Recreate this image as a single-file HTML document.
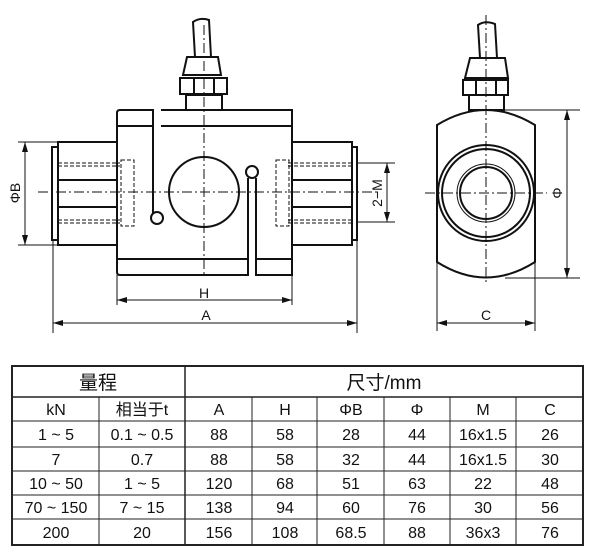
<!DOCTYPE html>
<html><head><meta charset="utf-8"><style>
html,body{margin:0;padding:0;background:#fff;width:600px;height:560px;overflow:hidden}
svg{display:block}
text{font-family:"Liberation Sans","Noto Sans CJK SC",sans-serif;fill:#111}
</style></head><body>
<svg width="600" height="560" viewBox="0 0 600 560" xmlns="http://www.w3.org/2000/svg">
<defs>
<marker id="ar" viewBox="0 0 10 6" refX="10" refY="3" markerWidth="10" markerHeight="6" orient="auto-start-reverse" markerUnits="userSpaceOnUse"><path d="M0,0 L10,3 L0,6 z" fill="#111"/></marker>
</defs>
<g stroke="#111" fill="none">
<g stroke-width="2">
<path d="M195,57 L193,22 Q200,17 209,20 L211,57"/>
<path d="M187,57 L218,57 L221,75 L183,75 Z"/>
<rect x="180" y="78" width="47" height="16"/>
<line x1="194" y1="78" x2="194" y2="94"/><line x1="214" y1="78" x2="214" y2="94"/>
<rect x="186" y="95" width="36" height="15"/>
<path d="M120,110 L153,110 L153,215"/>
<path d="M161,110 L292,110 L292,275 L256,275 L256,178"/>
<path d="M248,178 L248,275 L120,275 Q117,275 117,272 L117,113 Q117,110 120,110"/>
<circle cx="157" cy="218" r="6" fill="#fff"/>
<circle cx="252" cy="172" r="6" fill="#fff"/>
<line x1="117" y1="126" x2="153" y2="126"/><line x1="161" y1="126" x2="292" y2="126"/>
<line x1="117" y1="259" x2="248" y2="259"/><line x1="256" y1="259" x2="292" y2="259"/>
<circle cx="204" cy="192" r="35"/>
<path d="M117,142 L58,142 L58,245 L117,245"/>
<path d="M117,180 L59,180 M117,207 L59,207"/>
<rect x="52" y="147" width="6" height="93"/>
<path d="M292,142 L352,142 L352,245 L292,245"/>
<path d="M292,180 L351,180 M292,207 L351,207"/>
<rect x="352" y="147" width="5" height="93"/>
</g>
<g stroke-width="1" stroke-dasharray="4,2">
<line x1="58" y1="163" x2="120" y2="163"/><line x1="58" y1="166" x2="120" y2="166"/>
<line x1="58" y1="220" x2="120" y2="220"/><line x1="58" y1="223" x2="120" y2="223"/>
<rect x="121" y="160" width="13" height="66"/>
<line x1="288" y1="163" x2="352" y2="163"/><line x1="288" y1="166" x2="352" y2="166"/>
<line x1="288" y1="220" x2="352" y2="220"/><line x1="288" y1="223" x2="352" y2="223"/>
<rect x="276" y="160" width="13" height="66"/>
</g>
<g stroke-width="1" stroke-dasharray="10,3,2,3">
<line x1="38" y1="192" x2="378" y2="192"/>
<line x1="204" y1="25" x2="204" y2="275"/>
</g>
<g stroke-width="1">
<line x1="18" y1="142" x2="58" y2="142"/><line x1="18" y1="245" x2="58" y2="245"/>
<line x1="25" y1="142" x2="25" y2="245" marker-start="url(#ar)" marker-end="url(#ar)"/>
<line x1="357" y1="163" x2="395" y2="163"/><line x1="357" y1="222" x2="395" y2="222"/>
<line x1="387" y1="163" x2="387" y2="222" marker-start="url(#ar)" marker-end="url(#ar)"/>
<line x1="117" y1="275" x2="117" y2="305"/><line x1="292" y1="275" x2="292" y2="305"/>
<line x1="117" y1="300" x2="292" y2="300" marker-start="url(#ar)" marker-end="url(#ar)"/>
<line x1="53" y1="240" x2="53" y2="333"/><line x1="357" y1="240" x2="357" y2="333"/>
<line x1="53" y1="323" x2="357" y2="323" marker-start="url(#ar)" marker-end="url(#ar)"/>
</g>
<g stroke-width="2">
<path d="M480,58 L478,25 Q485,20 495,24 L497,58"/>
<path d="M470,58 L505,58 L508,78 L465,78 Z"/>
<rect x="463" y="80" width="45" height="15"/>
<line x1="476" y1="80" x2="476" y2="95"/><line x1="496" y1="80" x2="496" y2="95"/>
<rect x="469" y="95" width="35" height="15"/>
<path d="M437,125 Q486,95 535,125 L535,262 Q486,293 437,262 Z"/>
<circle cx="486" cy="193" r="48"/>
<circle cx="486" cy="193" r="44"/>
<circle cx="486" cy="193" r="26"/>
</g>
<circle cx="486" cy="193" r="29" stroke-width="1"/>
<g stroke-width="1" stroke-dasharray="10,3,2,3">
<line x1="425" y1="193" x2="547" y2="193"/>
<line x1="486" y1="15" x2="486" y2="285"/>
</g>
<g stroke-width="1">
<line x1="505" y1="110" x2="580" y2="110"/><line x1="505" y1="278" x2="580" y2="278"/>
<line x1="567" y1="110" x2="567" y2="278" marker-start="url(#ar)" marker-end="url(#ar)"/>
<line x1="437" y1="262" x2="437" y2="331"/><line x1="535" y1="262" x2="535" y2="331"/>
<line x1="437" y1="323" x2="535" y2="323" marker-start="url(#ar)" marker-end="url(#ar)"/>
</g>
</g>
<g font-size="14" text-anchor="middle">
<text x="204" y="298">H</text>
<text x="206" y="320">A</text>
<text x="486" y="320">C</text>
<text transform="translate(20,193) rotate(-90)">ΦB</text>
<text transform="translate(382,193) rotate(-90)">2−M</text>
<text transform="translate(562,193) rotate(-90)">Φ</text>
</g>
<g stroke="#222" fill="none">
<rect x="12" y="366" width="571" height="179" stroke-width="2"/>
<line x1="12" y1="397" x2="583" y2="397" stroke-width="1.5"/>
<line x1="185" y1="366" x2="185" y2="545" stroke-width="1.5"/>
<g stroke-width="1">
<line x1="12" y1="421" x2="583" y2="421"/>
<line x1="12" y1="447" x2="583" y2="447"/>
<line x1="12" y1="471" x2="583" y2="471"/>
<line x1="12" y1="495" x2="583" y2="495"/>
<line x1="12" y1="519" x2="583" y2="519"/>
<line x1="99" y1="397" x2="99" y2="545"/>
<line x1="252" y1="397" x2="252" y2="545"/>
<line x1="317" y1="397" x2="317" y2="545"/>
<line x1="384" y1="397" x2="384" y2="545"/>
<line x1="450" y1="397" x2="450" y2="545"/>
<line x1="516" y1="397" x2="516" y2="545"/>
</g>
</g>
<g font-size="16" text-anchor="middle">
<text x="98" y="389" font-size="19">量程</text>
<text x="384" y="389" font-size="19">尺寸/mm</text>
<text x="56" y="415">kN</text><text x="142" y="415">相当于t</text>
<text x="219" y="415">A</text><text x="285" y="415">H</text><text x="351" y="415">ΦB</text>
<text x="417" y="415">Φ</text><text x="483" y="415">M</text><text x="550" y="415">C</text>
<text x="56" y="440">1 ~ 5</text><text x="142" y="440">0.1 ~ 0.5</text><text x="219" y="440">88</text><text x="285" y="440">58</text><text x="351" y="440">28</text><text x="417" y="440">44</text><text x="483" y="440">16x1.5</text><text x="550" y="440">26</text>
<text x="56" y="465">7</text><text x="142" y="465">0.7</text><text x="219" y="465">88</text><text x="285" y="465">58</text><text x="351" y="465">32</text><text x="417" y="465">44</text><text x="483" y="465">16x1.5</text><text x="550" y="465">30</text>
<text x="56" y="489">10 ~ 50</text><text x="142" y="489">1 ~ 5</text><text x="219" y="489">120</text><text x="285" y="489">68</text><text x="351" y="489">51</text><text x="417" y="489">63</text><text x="483" y="489">22</text><text x="550" y="489">48</text>
<text x="56" y="513">70 ~ 150</text><text x="142" y="513">7 ~ 15</text><text x="219" y="513">138</text><text x="285" y="513">94</text><text x="351" y="513">60</text><text x="417" y="513">76</text><text x="483" y="513">30</text><text x="550" y="513">56</text>
<text x="56" y="538">200</text><text x="142" y="538">20</text><text x="219" y="538">156</text><text x="285" y="538">108</text><text x="351" y="538">68.5</text><text x="417" y="538">88</text><text x="483" y="538">36x3</text><text x="550" y="538">76</text>
</g>
</svg>
</body></html>
